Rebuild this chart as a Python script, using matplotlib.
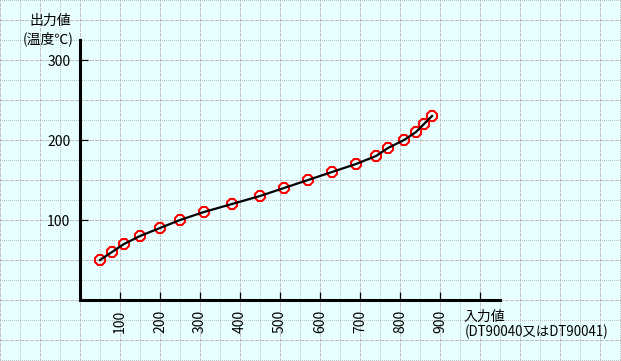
import matplotlib
matplotlib.use("Agg")
import matplotlib.pyplot as plt

plt.rcParams['font.family'] = ['Noto Sans CJK JP', 'DejaVu Sans']

# Data (input value vs output temperature)
input_values = [50, 80, 110, 150, 200, 250, 310, 380, 450, 510, 570, 630, 690, 740, 770, 810, 840, 860, 880]
output_values = [50, 60, 70, 80, 90, 100, 110, 120, 130, 140, 150, 160, 170, 180, 190, 200, 210, 220, 230]
x_ticks = [100, 200, 300, 400, 500, 600, 700, 800, 900, 1000]
x_tick_labels = ['100', '200', '300', '400', '500', '600', '700', '800', '900', '']
y_ticks = [100, 200, 300]
y_tick_labels = ['100', '200', '300']
y_title_lines = ['出力値', '(温度℃)']
x_title_lines = ['入力値', '(DT90040又はDT90041)']

W, H = 621, 361
fig = plt.figure(figsize=(W / 100, H / 100), dpi=100)
fig.patch.set_facecolor('#e8ffff')

# Background grid axes in pixel coordinates
bg = fig.add_axes([0, 0, 1, 1])
bg.set_xlim(0, W)
bg.set_ylim(H, 0)
bg.axis('off')
grid_color = '#c0c0c0'
for x in range(0, W, 20):
    ls = (0, (4, 2)) if x % 40 == 0 else (0, (1, 2))
    bg.axvline(x, color=grid_color, lw=0.72, linestyle=ls, antialiased=False)
for y in range(0, H, 20):
    ls = (0, (4, 2)) if y % 40 == 20 else (0, (1, 2))
    bg.axhline(y, color=grid_color, lw=0.72, linestyle=ls, antialiased=False)

# Main axes: x axis from px 80 to 500, y axis from px 300 up to 40
ax = fig.add_axes([80 / W, (H - 300) / H, 420 / W, 260 / H])
ax.set_facecolor('none')
ax.set_xlim(0, 1050)
ax.set_ylim(0, 325)
for s in ['top', 'right']:
    ax.spines[s].set_visible(False)
for s in ['left', 'bottom']:
    ax.spines[s].set_linewidth(2.2)
    ax.spines[s].set_color('black')

ax.plot(input_values, output_values, linestyle='none', marker='8', markersize=7.5,
        markerfacecolor='none', markeredgecolor='#ff0000', markeredgewidth=1.5, zorder=3)
ax.plot(input_values, output_values, color='black', lw=1.6, zorder=4)

ax.set_xticks(x_ticks)
ax.set_xticklabels(x_tick_labels, rotation=90, va='top', ha='center')
ax.set_yticks(y_ticks)
ax.set_yticklabels(y_tick_labels)
ax.tick_params(direction='in', length=5.5, width=0.9, labelsize=10, pad=7, colors='black')

# Axis titles (pixel coords on bg axes)
bg.text(50, 21, y_title_lines[0], ha='center', va='center', fontsize=10)
bg.text(23, 39, y_title_lines[1], ha='left', va='center', fontsize=10)
bg.text(463, 317, x_title_lines[0], ha='left', va='center', fontsize=10)
bg.text(465, 332, x_title_lines[1], ha='left', va='center', fontsize=9.6)

fig.savefig('out.png', dpi=100, facecolor=fig.get_facecolor())
